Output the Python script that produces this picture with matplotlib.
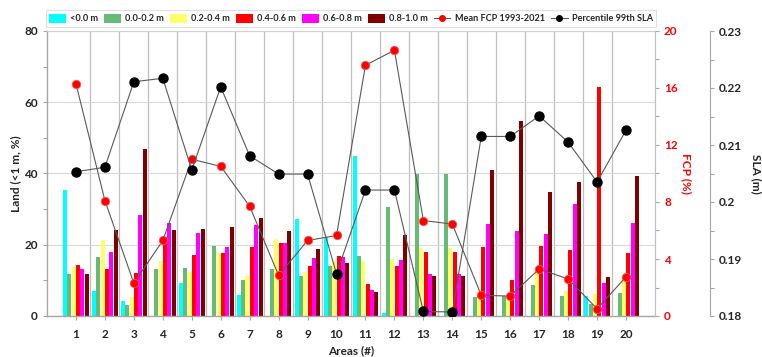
import numpy as np
import matplotlib
matplotlib.use("Agg")
import matplotlib.pyplot as plt
from matplotlib.ticker import MultipleLocator
from matplotlib.patches import Patch
from matplotlib.lines import Line2D

plt.rcParams['font.family'] = ['Lato', 'DejaVu Sans']

areas = list(range(1, 21))

# Share of land (<1 m, %) per elevation class
land_lt0 = [35.4, 7.0, 4.3, 0.0, 9.3, 0.0, 6.0, 0.0, 27.2, 22.3,
            44.9, 0.9, 0.0, 0.0, 0.0, 0.0, 0.0, 0.0, 5.7, 0.0]
land_00_02 = [11.8, 16.7, 3.2, 13.1, 13.4, 19.7, 10.0, 13.2, 11.3, 14.1,
              16.9, 30.5, 39.9, 39.9, 5.2, 5.6, 8.8, 5.6, 3.5, 6.4]
land_02_04 = [13.7, 21.2, 5.2, 15.5, 12.4, 17.6, 11.3, 21.6, 12.4, 15.5,
              15.3, 16.0, 19.2, 19.2, 7.1, 5.0, 13.4, 7.1, 6.3, 10.6]
land_04_06 = [14.2, 13.2, 12.0, 20.6, 17.0, 17.6, 19.3, 20.6, 13.9, 16.9,
              8.9, 14.0, 17.9, 17.9, 19.3, 10.0, 19.6, 18.4, 64.2, 17.6]
land_06_08 = [13.1, 18.1, 28.4, 26.1, 23.2, 19.4, 25.5, 20.6, 16.2, 16.5,
              7.2, 15.6, 11.7, 11.7, 25.9, 23.8, 22.9, 31.3, 9.2, 26.2]
land_08_10 = [11.8, 24.0, 46.8, 24.1, 24.5, 25.1, 27.4, 23.9, 18.7, 14.9,
              6.6, 22.6, 11.2, 11.2, 41.0, 54.8, 34.9, 37.5, 11.0, 39.4]

# Mean FCP 1993-2021 (%)
fcp_mean = [16.3, 8.1, 2.3, 5.3, 11.0, 10.5, 7.7, 2.85, 5.3, 5.65,
            17.6, 18.65, 6.7, 6.45, 1.45, 1.4, 3.3, 2.6, 0.5, 2.75]
# Percentile 99th SLA (m)
sla_p99 = [0.2053, 0.2061, 0.2211, 0.2217, 0.2056, 0.2202, 0.2081, 0.2049, 0.2049, 0.1874,
           0.2021, 0.2021, 0.1808, 0.1807, 0.2115, 0.2115, 0.2151, 0.2105, 0.2035, 0.2126]

series = [land_lt0, land_00_02, land_02_04, land_04_06, land_06_08, land_08_10]
labels = ['<0.0 m', '0.0-0.2 m', '0.2-0.4 m', '0.4-0.6 m', '0.6-0.8 m', '0.8-1.0 m']
colors = ['#00FFFF', '#66BB77', '#FFFF66', '#FF0000', '#FF00FF', '#800000']

W, H = 762, 357
fig = plt.figure(figsize=(W / 100, H / 100), dpi=100)
x0, x1, y0, y1 = 47, 655, 31, 316
ax = fig.add_axes([x0 / W, 1 - y1 / H, (x1 - x0) / W, (y1 - y0) / H])

x = np.array(areas, dtype=float)
slot = 0.15
for k, (vals, col, lab) in enumerate(zip(series, colors, labels)):
    ax.bar(x + (k - 2.5) * slot, vals, width=slot * 0.92, color=col,
           label=lab, zorder=2, linewidth=0)

ax.set_xlim(0, 21)
ax.set_ylim(0, 80)
ax.set_axisbelow(True)
ax.yaxis.set_major_locator(MultipleLocator(20))
ax.yaxis.set_minor_locator(MultipleLocator(10))
ax.grid(axis='y', which='major', color='#D9D9D9', lw=0.8, zorder=0)
for b in np.arange(1.5, 20, 1.0):
    ax.axvline(b, color='#BFBFBF', lw=0.9, zorder=0)
ax.set_xticks(areas)
ax.set_xticklabels([str(a) for a in areas])

grey = '#A6A6A6'
for s in ['left', 'bottom']:
    ax.spines[s].set_color(grey)
    ax.spines[s].set_linewidth(1.0)
for s in ['top', 'right']:
    ax.spines[s].set_color('#D0D0D0')
    ax.spines[s].set_linewidth(0.8)
ax.tick_params(axis='both', which='both', color=grey, length=3, width=0.8,
               labelsize=8.5, labelcolor='#262626')
ax.tick_params(axis='x', pad=6)
for t in ax.get_xticklabels() + ax.get_yticklabels():
    t.set_fontweight('bold')
ax.set_ylabel('Land (<1 m, %)', fontsize=8.5, fontweight='bold', color='#262626', labelpad=2)
ax.set_xlabel('Areas (#)', fontsize=8.5, fontweight='bold', color='#262626', labelpad=4)

# FCP axis
ax2 = ax.twinx()
ax2.set_ylim(0, 20)
ax2.yaxis.set_major_locator(MultipleLocator(4))
ax2.yaxis.set_minor_locator(MultipleLocator(2))
ax2.plot(x, fcp_mean, color='#595959', lw=0.8, marker='o', ms=6,
         mfc='#FF0000', mec='#FF5050', mew=0.6, zorder=3)
ax2.tick_params(axis='y', which='both', color=grey, length=3, width=0.8,
                labelsize=8.5, labelcolor='#FF0000')
for t in ax2.get_yticklabels():
    t.set_fontweight('bold')
ax2.set_ylabel('FCP (%)', fontsize=8.5, fontweight='bold', color='#FF0000',
               rotation=270, labelpad=10)
for s in ['left', 'top', 'bottom']:
    ax2.spines[s].set_visible(False)
ax2.spines['right'].set_color('#BFBFBF')

# SLA axis
ax3 = ax.twinx()
ax3.spines['right'].set_position(('axes', (710 - x0) / (x1 - x0)))
ax3.set_ylim(0.18, 0.23)
ax3.yaxis.set_major_locator(MultipleLocator(0.01))
ax3.yaxis.set_minor_locator(MultipleLocator(0.005))
ax3.set_yticks([0.18, 0.19, 0.2, 0.21, 0.22, 0.23])
ax3.set_yticklabels(['0.18', '0.19', '0.2', '0.21', '0.22', '0.23'])
ax3.plot(x, sla_p99, color='#595959', lw=0.8, marker='o', ms=6.5,
         mfc='black', mec='black', zorder=4)
ax3.tick_params(axis='y', which='both', color=grey, length=3, width=0.8,
                labelsize=8.5, labelcolor='#262626')
for t in ax3.get_yticklabels():
    t.set_fontweight('bold')
ax3.set_ylabel('SLA (m)', fontsize=8.5, fontweight='bold', color='#262626',
               rotation=270, labelpad=14)
for s in ['left', 'top', 'bottom']:
    ax3.spines[s].set_visible(False)
ax3.spines['right'].set_color(grey)

handles = [Patch(facecolor=c, edgecolor='none', label=l) for c, l in zip(colors, labels)]
handles.append(Line2D([], [], color='#595959', lw=0.8, marker='o', ms=4,
                      mfc='#FF0000', mec='#FF0000', label='Mean FCP 1993-2021'))
handles.append(Line2D([], [], color='#595959', lw=0.8, marker='o', ms=4,
                      mfc='black', mec='black', label='Percentile 99th SLA'))
leg = ax.legend(handles=handles, loc='lower center',
                bbox_to_anchor=(0.5, 1.0 + 4 / (y1 - y0)),
                ncol=8, fontsize=6.6, frameon=True, fancybox=False,
                handlelength=1.8, handleheight=1.1, handletextpad=0.45,
                columnspacing=0.7, borderpad=0.4, borderaxespad=0)
leg.get_frame().set_edgecolor('#D9D9D9')
leg.get_frame().set_linewidth(0.8)
for t in leg.get_texts():
    t.set_fontweight('bold')
    t.set_color('#262626')

fig.savefig('out.png', dpi=100)
